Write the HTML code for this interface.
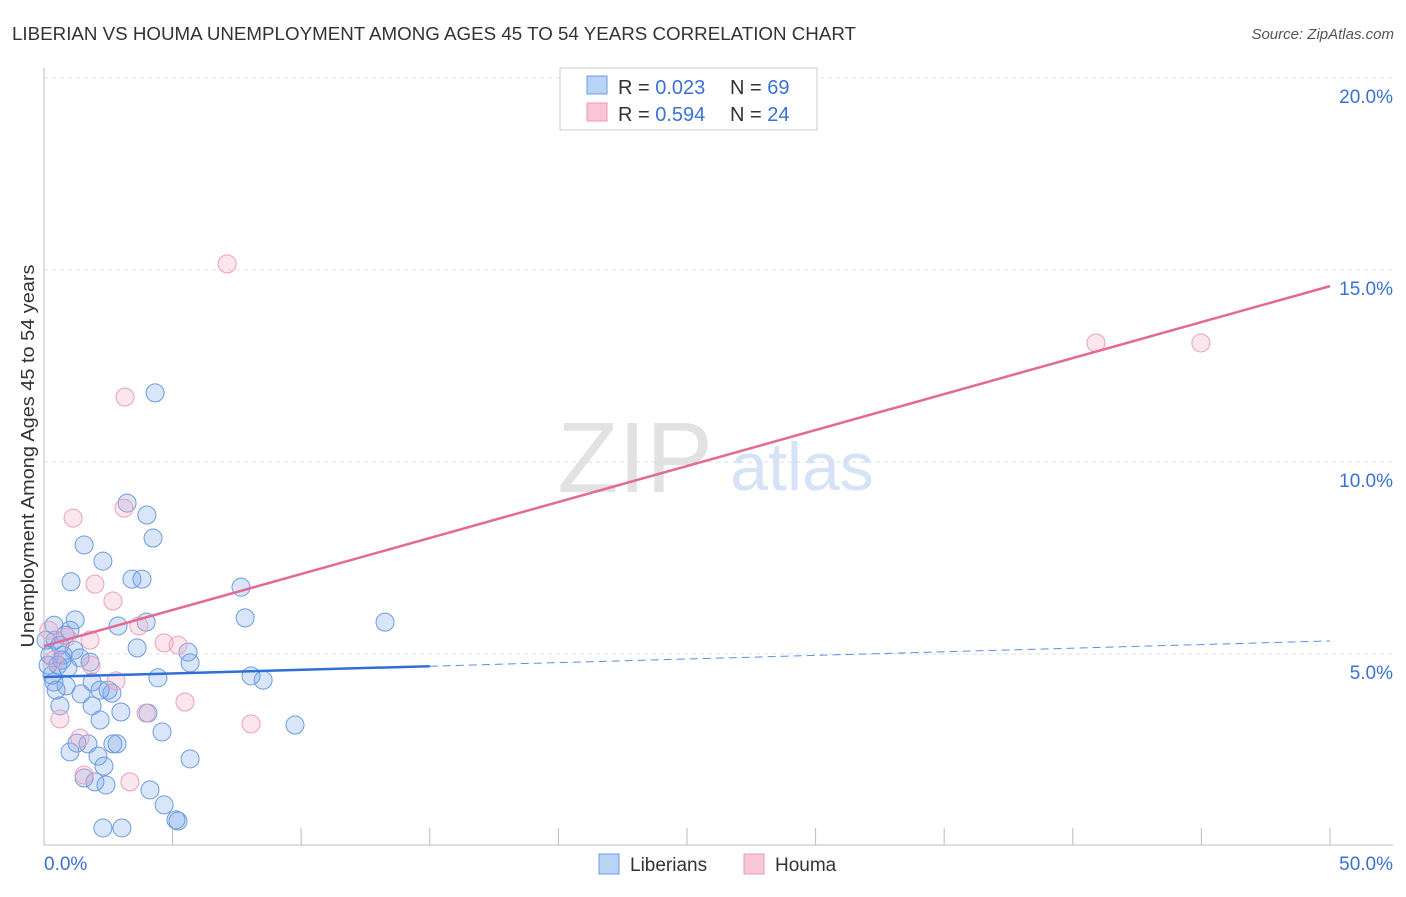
<!DOCTYPE html>
<html><head><meta charset="utf-8"><style>
body{margin:0;background:#fff;font-family:"Liberation Sans",sans-serif;}
svg text{font-family:"Liberation Sans",sans-serif;}
</style></head><body>
<svg id="c" width="1406" height="892">
<text x="12" y="40" font-size="18" fill="#333" textLength="844" lengthAdjust="spacingAndGlyphs">LIBERIAN VS HOUMA UNEMPLOYMENT AMONG AGES 45 TO 54 YEARS CORRELATION CHART</text>
<text x="1394" y="39" font-size="15" fill="#555" font-style="italic" text-anchor="end">Source: ZipAtlas.com</text>
<text x="635" y="492" font-size="100" fill="#e2e2e2" font-family="Liberation Serif" text-anchor="middle">ZIP</text>
<text x="802" y="490" font-size="68" fill="#d6e3f6" text-anchor="middle">atlas</text>
<text transform="translate(34,456) rotate(-90)" font-size="18" fill="#333" text-anchor="middle" textLength="383" lengthAdjust="spacingAndGlyphs">Unemployment Among Ages 45 to 54 years</text>
<g id="grid"></g><g id="pts"></g><g id="trend"></g>
<g>
<rect x="560" y="68" width="257" height="62" fill="#fff" stroke="#ccc"/>
<rect x="587" y="76" width="20" height="18" fill="#b9d3f5" stroke="#6b9be0"/>
<rect x="587" y="103" width="20" height="18" fill="#f9c6d6" stroke="#e899b4"/>
<text x="618" y="94" font-size="20" fill="#333">R = <tspan fill="#3a72d4">0.023</tspan></text>
<text x="730" y="94" font-size="20" fill="#333">N = <tspan fill="#3a72d4">69</tspan></text>
<text x="618" y="121" font-size="20" fill="#333">R = <tspan fill="#3a72d4">0.594</tspan></text>
<text x="730" y="121" font-size="20" fill="#333">N = <tspan fill="#3a72d4">24</tspan></text>
</g>
<g>
<rect x="599" y="854" width="20" height="20" fill="#b9d3f5" stroke="#6b9be0"/>
<text x="630" y="871" font-size="19" fill="#333">Liberians</text>
<rect x="744" y="854" width="20" height="20" fill="#f9c6d6" stroke="#e899b4"/>
<text x="775" y="871" font-size="19" fill="#333">Houma</text>
</g>
</svg>
<script>
const yTicks=[5,10,15,20];
const yTickLabels=["5.0%","10.0%","15.0%","20.0%"];
const xTickLabels=["0.0%","50.0%"];
const libX=[4.32,3.23,4.00,4.24,1.56,2.29,1.05,3.42,3.81,7.66,1.21,7.82,13.26,3.97,2.88,0.39,1.01,0.82,0.43,0.62,3.62,5.60,1.17,0.23,0.74,1.40,5.68,0.54,1.79,0.31,4.43,8.05,8.52,0.39,1.87,0.86,2.49,1.44,2.64,0.62,1.87,2.99,4.04,2.18,4.59,1.28,1.71,2.68,2.84,1.01,2.10,5.68,2.33,1.56,1.98,2.41,4.12,4.67,5.13,5.21,2.29,3.03,9.76,0.16,0.08,0.70,0.93,2.18,0.47];
const libY=[11.80,8.93,8.62,8.02,7.84,7.42,6.88,6.95,6.95,6.74,5.89,5.94,5.83,5.83,5.73,5.75,5.62,5.49,5.36,5.23,5.16,5.05,5.10,4.97,4.97,4.90,4.77,4.71,4.79,4.45,4.38,4.43,4.32,4.27,4.27,4.17,4.06,3.96,3.98,3.65,3.65,3.49,3.46,3.28,2.97,2.68,2.66,2.66,2.66,2.45,2.34,2.27,2.08,1.77,1.67,1.59,1.46,1.07,0.68,0.65,0.47,0.47,3.15,4.71,5.36,4.84,4.64,4.06,4.06];
const houX=[7.12,3.15,3.11,1.13,1.98,2.68,3.69,4.67,5.21,1.83,0.39,0.19,0.89,2.80,3.97,5.48,8.05,0.62,1.40,1.56,3.34,40.90,44.98,1.79];
const houY=[15.16,11.69,8.80,8.54,6.82,6.38,5.73,5.29,5.23,4.71,4.84,5.62,5.44,4.30,3.46,3.75,3.18,3.31,2.81,1.85,1.67,13.10,13.10,5.36];
const libTrend=[4.40,5.34];
const houTrend=[5.21,14.58];
const NS="http://www.w3.org/2000/svg";
const X=v=>44+v/50*1286, Y=v=>846-v/5*192;
function mk(tag,attrs,parent){const e=document.createElementNS(NS,tag);for(const k in attrs)e.setAttribute(k,attrs[k]);document.getElementById(parent).appendChild(e);return e;}
const ax=mk('line',{x1:44,y1:68,x2:44,y2:845,stroke:'#bbb'},'grid');


const bx=mk('line',{x1:44,y1:845,x2:1393,y2:845,stroke:'#bbb'},'grid');


yTicks.forEach((t,i)=>{
 const g=mk('line',{x1:44,x2:1393,y1:Y(t),y2:Y(t),stroke:'#ddd','stroke-dasharray':'4,4'},'grid');
 
 
 const l=mk('text',{x:1393,y:Y(t)+25,'font-size':19,fill:'#3a72d4','text-anchor':'end'},'grid');
 l.textContent=yTickLabels[i];
 
 
});
for(let v=5;v<=50;v+=5){
 const t=mk('line',{x1:X(v),x2:X(v),y1:828,y2:845,stroke:'#bbb'},'grid');
 
 
}
[[0,'start',44],[50,'end',1393]].forEach((d,i)=>{
 const l=mk('text',{x:d[2],y:870,'font-size':19,fill:'#3a72d4','text-anchor':d[1]},'grid');
 l.textContent=xTickLabels[i];
 
 
});
libX.forEach((v,i)=>{
 const c=mk('circle',{cx:X(v),cy:Y(libY[i]),r:9,fill:'rgba(120,165,235,0.28)',stroke:'#6b9be0','stroke-width':1},'pts');
 
 
});
houX.forEach((v,i)=>{
 const c=mk('circle',{cx:X(v),cy:Y(houY[i]),r:9,fill:'rgba(245,165,195,0.28)',stroke:'#eaa0bb','stroke-width':1},'pts');
 
 
});
const lb=v=>libTrend[0]+(libTrend[1]-libTrend[0])*v/50;
const t1=mk('line',{x1:X(0),y1:Y(lb(0)),x2:X(15),y2:Y(lb(15)),stroke:'#2f6fd6','stroke-width':2.5},'trend');


const t2=mk('line',{x1:X(15),y1:Y(lb(15)),x2:X(50),y2:Y(lb(50)),stroke:'#5b8fe0','stroke-width':1,'stroke-dasharray':'8,5'},'trend');


const t3=mk('line',{x1:X(0),y1:Y(houTrend[0]),x2:X(50),y2:Y(houTrend[1]),stroke:'#e46a95','stroke-width':2.5},'trend');


</script>
</body></html>
